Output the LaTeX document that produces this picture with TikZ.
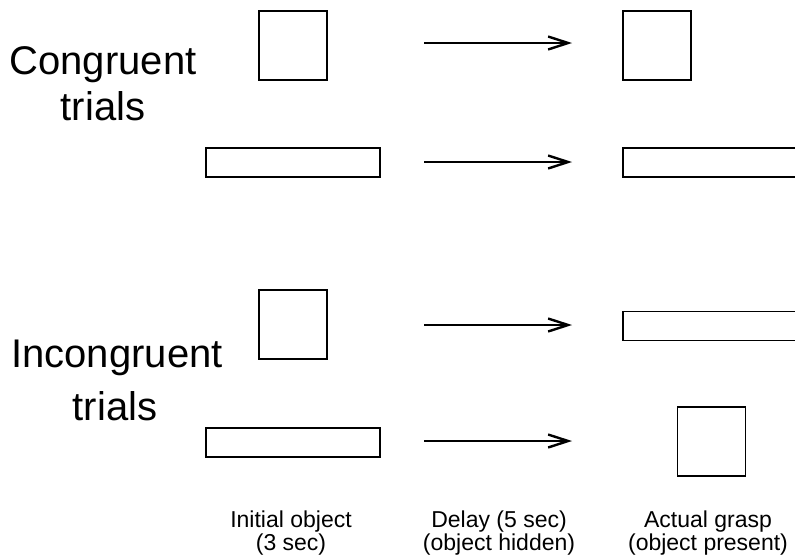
\documentclass[tikz,border=0pt]{standalone}
\usepackage{fontspec}
\setmainfont{Liberation Sans}
\usetikzlibrary{positioning, arrows.meta}

\tikzset{
  objsquare/.style={draw, line width=1.3pt, minimum width=68pt, minimum height=69pt, inner sep=0pt},
  objbar/.style={draw, line width=1.3pt, minimum width=174pt, minimum height=29pt, inner sep=0pt},
  trialarrow/.style={line width=1.3pt, -{Straight Barb[length=20pt, width=13pt, line width=2.4pt]}},
  bigtext/.style={font=\fontsize{40}{45}\selectfont, align=center, inner sep=0pt},
  captext/.style={font=\fontsize{23}{24}\selectfont, align=center, inner sep=0pt}
}

\begin{document}
\begin{tikzpicture}[x=1pt, y=-1pt]
  \useasboundingbox (0,0) rectangle (795,558);

  % trial labels
  \node[bigtext, anchor=base] (congr) at (103,74) {Congruent};
  \node[bigtext, anchor=base] (congrtr) at (103,120) {trials};
  \node[bigtext, anchor=base] (incongr) at (117,367) {Incongruent};
  \node[bigtext, anchor=base] (incongrtr) at (115,420) {trials};

  % congruent trials
  \node[objsquare] (init1) at (293,45.5) {};
  \node[objsquare] (grasp1) at (657,45.5) {};
  \node[objbar] (init2) at (293,162.5) {};
  \node[objbar] (grasp2) at (710,162.5) {};

  % incongruent trials
  \node[objsquare] (init3) at (293,324.5) {};
  \node[objbar] (grasp3) at (710,326) {};
  \node[objbar] (init4) at (293,442.5) {};
  \node[objsquare] (grasp4) at (711.5,441.5) {};

  % delay arrows
  \foreach \y/\n in {43/1, 162/2, 325/3, 441/4} {
    \coordinate (s\n) at (424,\y);
    \coordinate (e\n) at (572,\y);
    \draw[trialarrow] (s\n) -- (e\n);
  }

  % phase captions
  \node[captext, anchor=base] (capinit) at (291,527) {Initial object};
  \node[captext, anchor=base] (capinit2) at (291,550.5) {(3 sec)};
  \node[captext, anchor=base] (capdelay) at (499,527) {Delay (5 sec)};
  \node[captext, anchor=base] (capdelay2) at (499,550.5) {(object hidden)};
  \node[captext, anchor=base] (capgrasp) at (708,527) {Actual grasp};
  \node[captext, anchor=base] (capgrasp2) at (708,550.5) {(object present)};
\end{tikzpicture}
\end{document}
